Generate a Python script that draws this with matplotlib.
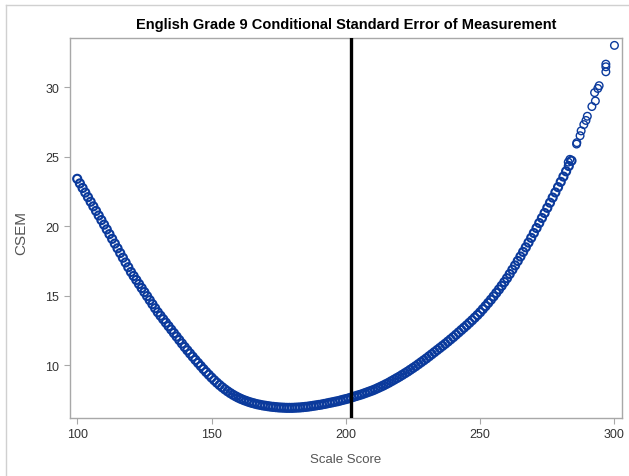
import matplotlib
matplotlib.use("Agg")
import matplotlib.pyplot as plt
from matplotlib.lines import Line2D

# Dense part: scale score (integer) -> CSEM
scores_dense = list(range(100, 285))
csem_dense = [
    23.40, 23.07, 22.74, 22.41, 22.08, 21.75, 21.42, 21.09, 20.76, 20.43,  # 100-109
    20.10, 19.76, 19.42, 19.08, 18.74, 18.40, 18.06, 17.72, 17.38, 17.04,  # 110-119
    16.70, 16.41, 16.12, 15.83, 15.54, 15.25, 14.96, 14.67, 14.38, 14.09,  # 120-129
    13.80, 13.55, 13.30, 13.05, 12.80, 12.55, 12.30, 12.05, 11.80, 11.55,  # 130-139
    11.30, 11.06, 10.83, 10.60, 10.37, 10.15, 9.93, 9.71, 9.50, 9.30,      # 140-149
    9.10, 8.91, 8.73, 8.56, 8.40, 8.25, 8.11, 7.98, 7.86, 7.75,            # 150-159
    7.65, 7.56, 7.48, 7.41, 7.34, 7.28, 7.23, 7.18, 7.14, 7.10,            # 160-169
    7.07, 7.04, 7.01, 6.99, 6.97, 6.95, 6.94, 6.93, 6.92, 6.92,            # 170-179
    6.92, 6.93, 6.94, 6.95, 6.97, 6.99, 7.01, 7.04, 7.07, 7.10,            # 180-189
    7.13, 7.16, 7.20, 7.24, 7.28, 7.32, 7.36, 7.40, 7.45, 7.50,            # 190-199
    7.55, 7.60, 7.66, 7.72, 7.78, 7.84, 7.90, 7.97, 8.04, 8.11,            # 200-209
    8.18, 8.26, 8.35, 8.44, 8.53, 8.63, 8.73, 8.84, 8.95, 9.06,            # 210-219
    9.17, 9.29, 9.41, 9.53, 9.66, 9.79, 9.92, 10.06, 10.20, 10.34,         # 220-229
    10.48, 10.63, 10.78, 10.93, 11.08, 11.23, 11.38, 11.53, 11.69, 11.85,  # 230-239
    12.01, 12.18, 12.35, 12.52, 12.69, 12.86, 13.04, 13.22, 13.41, 13.60,  # 240-249
    13.80, 14.02, 14.24, 14.47, 14.70, 14.94, 15.19, 15.44, 15.70, 15.97,  # 250-259
    16.25, 16.55, 16.86, 17.17, 17.49, 17.81, 18.14, 18.47, 18.81, 19.15,  # 260-269
    19.50, 19.86, 20.22, 20.58, 20.94, 21.31, 21.68, 22.05, 22.42, 22.80,  # 270-279
    23.18, 23.56, 23.94, 24.32, 24.70,                                     # 280-284
]

# Sparse high-end points
scores_sparse = [282.8, 283.4, 285.9, 286.0, 287.2, 287.6, 288.6, 289.4, 289.9,
                 291.6, 292.9, 292.6, 293.8, 294.3, 296.8, 296.8, 296.8, 300.0]
csem_sparse = [24.6, 24.8, 25.9, 26.0, 26.5, 26.85, 27.3, 27.6, 27.9,
               28.6, 29.0, 29.6, 29.9, 30.1, 31.1, 31.46, 31.65, 33.0]

cut_score = 202
x_ticks = [100, 150, 200, 250, 300]
y_ticks = [10, 15, 20, 25, 30]

title = "English Grade 9 Conditional Standard Error of Measurement"
xlabel = "Scale Score"
ylabel = "CSEM"

plt.rcParams['font.family'] = ['Liberation Sans', 'DejaVu Sans']

fig = plt.figure(figsize=(6.29, 4.77), dpi=100)
ax = fig.add_axes([0.1108, 0.1216, 0.8776, 0.7966])

marker_color = '#0b3a9c'
ax.scatter(scores_dense, csem_dense, s=34,
           facecolors='none', edgecolors=marker_color, linewidths=1.5, zorder=3)
ax.scatter(scores_sparse, csem_sparse, s=30,
           facecolors='none', edgecolors=marker_color, linewidths=1.0, zorder=3)
ax.axvline(cut_score, color='black', linewidth=2.4, zorder=4)

ax.set_xlim(97.2, 302.7)
ax.set_ylim(6.19, 33.53)
ax.set_xticks(x_ticks)
ax.set_yticks(y_ticks)

grey = '#a8a8a8'
for s in ax.spines.values():
    s.set_color(grey)
    s.set_linewidth(1.0)
ax.tick_params(axis='both', colors=grey, labelcolor='#333333', labelsize=9,
               length=4, width=0.8, direction='out')

ax.set_title(title, fontsize=10.5, fontweight='bold', color='black', pad=7)
ax.set_xlabel(xlabel, fontsize=9.5, color='#555555', labelpad=9)
ax.set_ylabel(ylabel, fontsize=11, color='#555555')
ax.yaxis.set_label_coords(-0.0755, 0.489)

# outer light border (top and left visible)
fig.add_artist(Line2D([5.5 / 629, 5.5 / 629], [0, 1 - 5.5 / 477],
                      transform=fig.transFigure, color='#d0d0d0', linewidth=1))
fig.add_artist(Line2D([5.5 / 629, 1], [1 - 5.5 / 477, 1 - 5.5 / 477],
                      transform=fig.transFigure, color='#d0d0d0', linewidth=1))

fig.savefig('out.png', dpi=100)
